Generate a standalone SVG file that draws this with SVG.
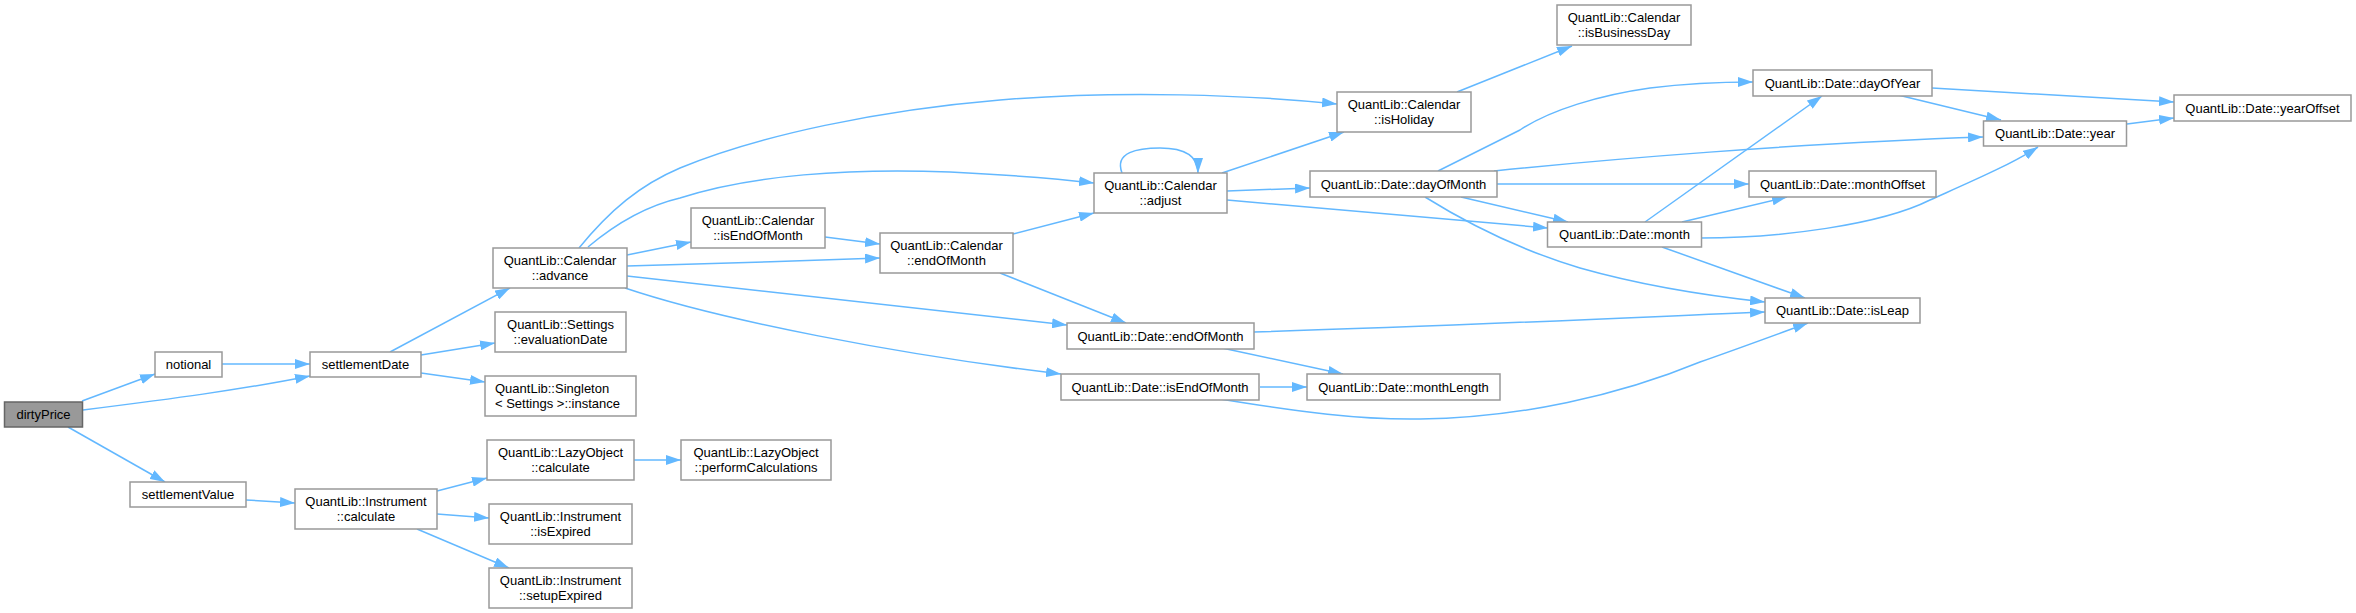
<svg xmlns="http://www.w3.org/2000/svg" width="2356" height="613" viewBox="0 0 2356 613">
<style>
.node rect{fill:#ffffff;stroke:#999999;stroke-width:1.5}
.focus rect{fill:#999999;stroke:#666666;stroke-width:1.5}
text{font-family:"Liberation Sans",Arial,Helvetica,sans-serif;font-size:13px;fill:#000000}
.c{text-anchor:middle}
.l{text-anchor:start}
.edge{fill:none;stroke:#63b8ff;stroke-width:1.5;marker-end:url(#arr)}
</style>
<defs>
<marker id="arr" markerUnits="userSpaceOnUse" markerWidth="15" markerHeight="10" viewBox="0 0 15 10" refX="15" refY="5" orient="auto">
<path d="M0,0 L15,5 L0,10 Z" fill="#63b8ff" stroke="none"/>
</marker>
</defs>
<rect width="2356" height="613" fill="#ffffff"/>
<g id="connectors">
<path class="edge" d="M82,401 L155,374"/>
<path class="edge" d="M83,410 C170,399 240,390 310,376"/>
<path class="edge" d="M68,427 L165,482"/>
<path class="edge" d="M222,364 L310,364"/>
<path class="edge" d="M390,352 L510,288"/>
<path class="edge" d="M421,355 L495,343"/>
<path class="edge" d="M421,373 L485,382"/>
<path class="edge" d="M246,500 L295,503"/>
<path class="edge" d="M437,491 L487,478"/>
<path class="edge" d="M437,514 L489,518"/>
<path class="edge" d="M417,529 L509,568"/>
<path class="edge" d="M634,460 L681,460"/>
<path class="edge" d="M579,248 C610,210 640,185 680,168 C760,135 880,110 1000,100 C1120,90 1250,95 1337,104"/>
<path class="edge" d="M588,247 C620,220 650,205 680,198 C750,175 850,168 950,172 C1010,175 1060,179 1094,183"/>
<path class="edge" d="M627,255 L691,242"/>
<path class="edge" d="M627,266 C700,264 800,261 880,258"/>
<path class="edge" d="M627,276 L1067,325"/>
<path class="edge" d="M625,288 C720,320 900,355 1061,374"/>
<path class="edge" d="M825,237 L880,244"/>
<path class="edge" d="M1013,234 L1094,213"/>
<path class="edge" d="M1000,273 L1126,323"/>
<path class="edge" d="M1122,173 C1114,152 1138,148 1160,148 C1184,148 1198,156 1198,173"/>
<path class="edge" d="M1222,173 L1344,132"/>
<path class="edge" d="M1227,191 L1310,188"/>
<path class="edge" d="M1227,200 L1548,228"/>
<path class="edge" d="M1457,92 L1572,46"/>
<path class="edge" d="M1438,171 C1470,155 1500,140 1520,130 C1550,110 1600,95 1650,88 C1690,83 1720,82 1753,82"/>
<path class="edge" d="M1494,171 C1600,160 1800,143 1983,137"/>
<path class="edge" d="M1497,184 L1749,184"/>
<path class="edge" d="M1461,197 L1568,222"/>
<path class="edge" d="M1425,197 C1470,225 1520,250 1580,268 C1640,285 1700,295 1765,302"/>
<path class="edge" d="M1645,222 L1822,96"/>
<path class="edge" d="M1682,222 L1787,197"/>
<path class="edge" d="M1701,238 C1780,238 1880,225 1930,200 C1970,182 2010,165 2038,147"/>
<path class="edge" d="M1662,247 L1805,298"/>
<path class="edge" d="M1932,88 L2174,102"/>
<path class="edge" d="M1898,95 L2001,120"/>
<path class="edge" d="M2127,124 L2174,118"/>
<path class="edge" d="M1254,332 C1450,326 1620,318 1765,312"/>
<path class="edge" d="M1222,348 L1343,374"/>
<path class="edge" d="M1260,387 L1307,387"/>
<path class="edge" d="M1220,399 C1300,412 1360,420 1420,419 C1520,418 1620,395 1700,362 C1740,348 1775,335 1808,323"/>
</g>
<g id="dirtyPrice" class="focus"><rect x="4.5" y="402" width="78" height="25"/><text class="c" x="43.5" y="419">dirtyPrice</text></g>
<g id="notional" class="node"><rect x="155" y="352" width="67" height="25"/><text class="c" x="188.5" y="369">notional</text></g>
<g id="settlementDate" class="node"><rect x="310" y="352" width="111" height="25"/><text class="c" x="365.5" y="369">settlementDate</text></g>
<g id="settlementValue" class="node"><rect x="130" y="482" width="116" height="25"/><text class="c" x="188" y="499">settlementValue</text></g>
<g id="calendarAdvance" class="node"><rect x="493" y="248" width="134" height="40"/><text class="c" x="560" y="264.5">QuantLib::Calendar</text><text class="c" x="560" y="279.5">::advance</text></g>
<g id="settingsEvaluationDate" class="node"><rect x="495" y="312" width="131" height="40"/><text class="c" x="560.5" y="328.5">QuantLib::Settings</text><text class="c" x="560.5" y="343.5">::evaluationDate</text></g>
<g id="singletonInstance" class="node"><rect x="485" y="376" width="151" height="40"/><text class="l" x="495" y="392.5">QuantLib::Singleton</text><text class="l" x="495" y="407.5">&lt; Settings &gt;::instance</text></g>
<g id="instrumentCalculate" class="node"><rect x="295" y="489" width="142" height="40"/><text class="c" x="366" y="505.5">QuantLib::Instrument</text><text class="c" x="366" y="520.5">::calculate</text></g>
<g id="lazyObjectCalculate" class="node"><rect x="487" y="440" width="147" height="40"/><text class="c" x="560.5" y="456.5">QuantLib::LazyObject</text><text class="c" x="560.5" y="471.5">::calculate</text></g>
<g id="instrumentIsExpired" class="node"><rect x="489" y="504" width="143" height="40"/><text class="c" x="560.5" y="520.5">QuantLib::Instrument</text><text class="c" x="560.5" y="535.5">::isExpired</text></g>
<g id="instrumentSetupExpired" class="node"><rect x="489" y="568" width="143" height="40"/><text class="c" x="560.5" y="584.5">QuantLib::Instrument</text><text class="c" x="560.5" y="599.5">::setupExpired</text></g>
<g id="lazyObjectPerformCalculations" class="node"><rect x="681" y="440" width="150" height="40"/><text class="c" x="756" y="456.5">QuantLib::LazyObject</text><text class="c" x="756" y="471.5">::performCalculations</text></g>
<g id="calendarIsEndOfMonth" class="node"><rect x="691" y="208" width="134" height="40"/><text class="c" x="758" y="224.5">QuantLib::Calendar</text><text class="c" x="758" y="239.5">::isEndOfMonth</text></g>
<g id="calendarEndOfMonth" class="node"><rect x="880" y="233" width="133" height="40"/><text class="c" x="946.5" y="249.5">QuantLib::Calendar</text><text class="c" x="946.5" y="264.5">::endOfMonth</text></g>
<g id="calendarAdjust" class="node"><rect x="1094" y="173" width="133" height="40"/><text class="c" x="1160.5" y="189.5">QuantLib::Calendar</text><text class="c" x="1160.5" y="204.5">::adjust</text></g>
<g id="dateEndOfMonth" class="node"><rect x="1067" y="323" width="187" height="26"/><text class="c" x="1160.5" y="340.5">QuantLib::Date::endOfMonth</text></g>
<g id="dateIsEndOfMonth" class="node"><rect x="1061" y="374" width="198" height="26"/><text class="c" x="1160" y="391.5">QuantLib::Date::isEndOfMonth</text></g>
<g id="dateMonthLength" class="node"><rect x="1307" y="374" width="193" height="26"/><text class="c" x="1403.5" y="391.5">QuantLib::Date::monthLength</text></g>
<g id="calendarIsHoliday" class="node"><rect x="1337" y="92" width="134" height="40"/><text class="c" x="1404" y="108.5">QuantLib::Calendar</text><text class="c" x="1404" y="123.5">::isHoliday</text></g>
<g id="calendarIsBusinessDay" class="node"><rect x="1557" y="5" width="134" height="40"/><text class="c" x="1624" y="21.5">QuantLib::Calendar</text><text class="c" x="1624" y="36.5">::isBusinessDay</text></g>
<g id="dateDayOfMonth" class="node"><rect x="1310" y="171" width="187" height="26"/><text class="c" x="1403.5" y="188.5">QuantLib::Date::dayOfMonth</text></g>
<g id="dateDayOfYear" class="node"><rect x="1753" y="70" width="179" height="26"/><text class="c" x="1842.5" y="87.5">QuantLib::Date::dayOfYear</text></g>
<g id="dateMonthOffset" class="node"><rect x="1749" y="171" width="187" height="26"/><text class="c" x="1842.5" y="188.5">QuantLib::Date::monthOffset</text></g>
<g id="dateMonth" class="node"><rect x="1547.5" y="222" width="154" height="25"/><text class="c" x="1624.5" y="239">QuantLib::Date::month</text></g>
<g id="dateYear" class="node"><rect x="1983.5" y="121" width="143" height="25"/><text class="c" x="2055" y="138">QuantLib::Date::year</text></g>
<g id="dateYearOffset" class="node"><rect x="2174" y="95" width="177" height="26"/><text class="c" x="2262.5" y="112.5">QuantLib::Date::yearOffset</text></g>
<g id="dateIsLeap" class="node"><rect x="1765" y="298" width="155" height="25"/><text class="c" x="1842.5" y="315">QuantLib::Date::isLeap</text></g>
</svg>
